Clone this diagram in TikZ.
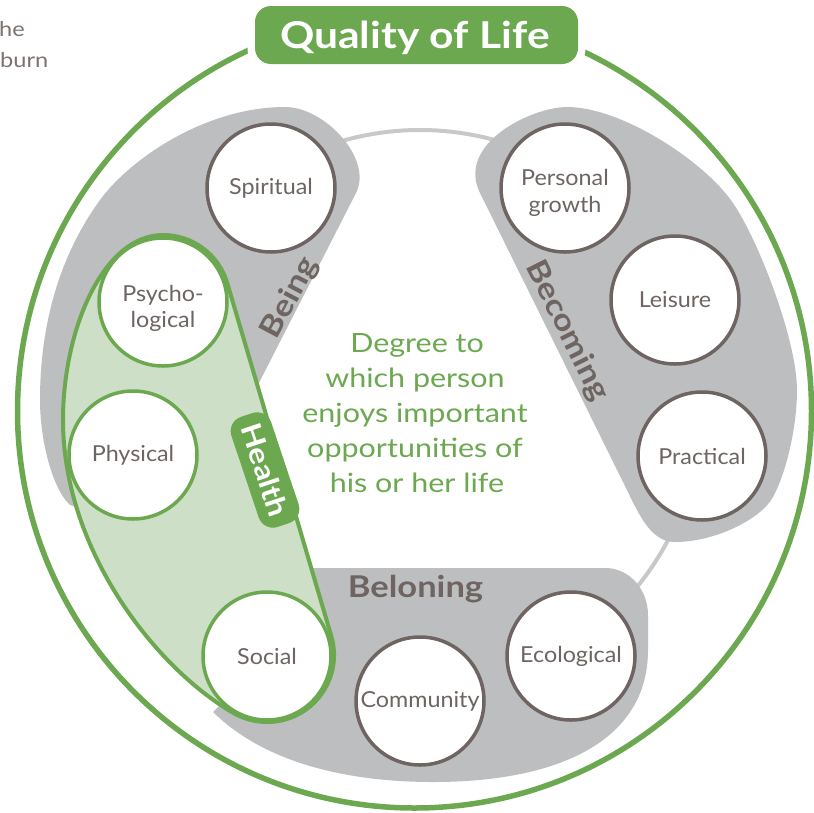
\documentclass[tikz,border=0pt]{standalone}
\usepackage{fontspec}
\setmainfont{Lato}[BoldFeatures={FakeStretch=1.15}]
\newfontfamily\widefont{Lato}[FakeStretch=1.15]
\newfontfamily\nodefont{Lato}[FakeStretch=1.06]
\definecolor{qgreen}{RGB}{108,168,80}
\definecolor{qlight}{RGB}{205,223,199}
\definecolor{qgray}{RGB}{189,190,192}
\definecolor{qring}{RGB}{200,200,202}
\definecolor{qbrown}{RGB}{110,100,98}
\definecolor{qside}{RGB}{125,115,112}
\begin{document}
\begin{tikzpicture}[x=1pt,y=-1pt,
  topic/.style={circle, draw=qbrown, line width=3.5pt, fill=white, minimum size=128pt, inner sep=0pt, text=qbrown, font=\nodefont\fontsize{22}{27}\selectfont, align=center},
  healthtopic/.style={topic, draw=qgreen},
  grouplabel/.style={text=qbrown, font=\bfseries\fontsize{30}{32}\selectfont, inner sep=0pt},
  centertext/.style={text=qgreen, font=\widefont\fontsize{26.5}{30}\selectfont, anchor=base, inner sep=0pt},
  sidetext/.style={text=qside, font=\widefont\fontsize{20.5}{24}\selectfont, anchor=base west, inner sep=0pt},
  healthtag/.style={fill=qgreen, rounded corners=15pt, minimum width=116pt, minimum height=42pt, text=white, font=\bfseries\fontsize{28}{30}\selectfont, inner sep=0pt}
]
\useasboundingbox (0,0) rectangle (814,812);
\fill[white] (0,0) rectangle (814,812);

% side text fragments
\node[sidetext] (frag1) at (-1,36) {he};
\node[sidetext] (frag2) at (0,67) {burn};

% outer circle
\draw[qgreen, line width=5.5pt] (414.5,411) circle[radius=397];

% title
\node[fill=white, rounded corners=22pt, minimum width=338pt, minimum height=72pt, inner sep=0pt] (titlegap) at (416.5,35) {};
\node[fill=qgreen, rounded corners=16pt, minimum width=323pt, minimum height=58pt, inner sep=0pt] (titlebox) at (416.5,35) {};
\node[text=white, font=\bfseries\fontsize{37}{40}\selectfont, anchor=base, inner sep=0pt] (title) at (415,48) {Quality of Life};

% ring
\draw[qring, line width=4pt] (420,410) circle[radius=280];

% Being blob
\fill[qgray] (240,420) -- (356,193) .. controls (373.3,159.2) and (325,107) .. (285,107)
  .. controls (205,107) and (129.5,159.5) .. (100,200)
  .. controls (61.7,252.7) and (40,320) .. (40,400)
  .. controls (40,440) and (52,488) .. (70,505) -- (120,520) -- cycle;

% Becoming blob
\fill[qgray] (480,193) -- (625,486) .. controls (638.3,512.9) and (650,542) .. (675,542)
  .. controls (715,542) and (761.2,519) .. (773,497)
  .. controls (787.2,470.6) and (797,425) .. (797,390)
  .. controls (797,340) and (758.4,240.2) .. (733,203)
  .. controls (704.8,161.7) and (622,107) .. (567,107)
  .. controls (532,107) and (455.6,143.7) .. (480,193) -- cycle;

% Belonging blob
\fill[qgray] (290,568) -- (605,568) .. controls (630,568) and (648,590) .. (648,615) -- (648,650)
  .. controls (648,740) and (560,782) .. (433,782)
  .. controls (360,782) and (270,768) .. (213,712) -- (225,700) -- cycle;

% Health blob
\filldraw[fill=qlight, draw=qgreen, line width=4pt] (163,235) arc[start angle=-90, end angle=-16.4, radius=67]
  -- (331.3,636.1) arc[start angle=-16.4, end angle=120, radius=67]
  .. controls (155.6,668) and (63,550) .. (63,420)
  .. controls (63,330) and (103,235) .. (163,235) -- cycle;

% topic circles
\node[topic] (spiritual) at (271,188) {Spiritual};
\node[healthtopic] (psych) at (163,302) {\rule{0pt}{29pt}Psycho-\\logical};
\node[healthtopic] (physical) at (133,455) {Physical};
\node[healthtopic] (social) at (267,656) {Social};
\node[topic] (community) at (420,701) {Community};
\node[topic] (ecological) at (571,656) {Ecological};
\node[topic] (practical) at (702,456) {Practical};
\node[topic] (leisure) at (675,300) {Leisure};
\node[topic] (growth) at (565,188) {\rule{0pt}{26pt}Personal\\growth};

% group labels
\node[grouplabel, rotate=62] (being) at (290,298) {Being};
\node[grouplabel, rotate=-63.5] (becoming) at (567,331) {Becoming};
\node[grouplabel, anchor=base] (belonging) at (415.5,597) {Beloning};
\node[healthtag, rotate=-71.5] (health) at (265,470) {Health};

% centre text
\node[centertext] (ct1) at (417,352) {Degree to};
\node[centertext] (ct2) at (415,387) {which person};
\node[centertext] (ct3) at (415,422) {enjoys important};
\node[centertext] (ct4) at (415,457) {opportunities of};
\node[centertext] (ct5) at (417,492) {his or her life};
\end{tikzpicture}
\end{document}
